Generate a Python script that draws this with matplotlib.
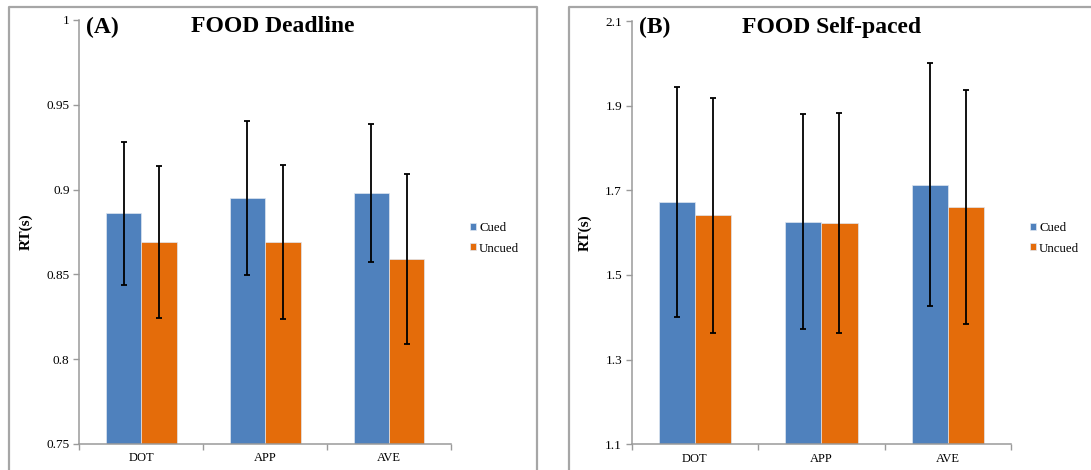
import numpy as np
import matplotlib
matplotlib.use("Agg")
import matplotlib.pyplot as plt
from matplotlib.lines import Line2D

plt.rcParams['font.family'] = ['Liberation Serif', 'DejaVu Serif']

categories = ["DOT", "APP", "AVE"]
series = ["Cued", "Uncued"]
colors = ["#4F81BD", "#E46C0A"]

# panel A: FOOD Deadline
deadline_cued = [0.886, 0.895, 0.898]
deadline_uncued = [0.869, 0.869, 0.859]
deadline_cued_err = [0.042, 0.0455, 0.0405]
deadline_uncued_err = [0.045, 0.0455, 0.050]
deadline_ticks = [0.75, 0.8, 0.85, 0.9, 0.95, 1.0]
deadline_ticklabels = ["0.75", "0.8", "0.85", "0.9", "0.95", "1"]

# panel B: FOOD Self-paced
self_cued = [1.672, 1.626, 1.713]
self_uncued = [1.641, 1.623, 1.660]
self_cued_err = [0.271, 0.254, 0.287]
self_uncued_err = [0.277, 0.260, 0.276]
self_ticks = [1.1, 1.3, 1.5, 1.7, 1.9, 2.1]
self_ticklabels = ["1.1", "1.3", "1.5", "1.7", "1.9", "2.1"]

W, H = 1091, 470
fig = plt.figure(figsize=(W / 100, H / 100), dpi=100)


def px(x, y):
    return x / W, 1 - y / H


def draw_panel(rect, cued, uncued, cued_err, uncued_err, ticks, ticklabels,
               letter, title, letter_x, title_x, leg_x, label_x):
    ax = fig.add_axes(rect)
    x = np.arange(len(categories))
    bw = 0.286
    vals = [cued, uncued]
    errs = [cued_err, uncued_err]
    for i in range(2):
        pos = x + (i - 0.5) * bw
        ax.bar(pos, vals[i], bw, color=colors[i], edgecolor="#dfe6f0", linewidth=0.5,
               label=series[i], zorder=2)
        ax.errorbar(pos, vals[i], yerr=errs[i], fmt="none", ecolor="black",
                    elinewidth=1.3, capsize=2.3, capthick=1.3, zorder=3)
    ax.set_xlim(-0.5, len(categories) - 0.5)
    ax.set_ylim(ticks[0], ticks[-1])
    ax.set_yticks(ticks)
    ax.set_yticklabels(ticklabels, fontsize=9.5)
    ax.set_xticks(x)
    ax.set_xticklabels(categories, fontsize=9)
    ax.set_xticks(np.arange(len(categories) + 1) - 0.5, minor=True)
    ax.tick_params(axis="x", which="major", length=0, pad=6)
    ax.tick_params(axis="x", which="minor", length=4, color="#9a9a9a", width=1)
    ax.tick_params(axis="y", length=4, color="#9a9a9a", width=1, pad=3)
    for s in ["top", "right"]:
        ax.spines[s].set_visible(False)
    for s in ["left", "bottom"]:
        ax.spines[s].set_color("#9a9a9a")
        ax.spines[s].set_linewidth(1.1)
    ax.set_ylabel("RT(s)", fontsize=11, fontweight="bold")
    ax.yaxis.set_label_coords(label_x, 0.5)
    fig.text(*px(letter_x, 27), letter, fontsize=17, fontweight="bold",
             ha="left", va="center")
    fig.text(*px(title_x, 27), title, fontsize=17, fontweight="bold",
             ha="center", va="center")
    fig.legend(handles=ax.patches[:1] + ax.patches[3:4], labels=series,
               loc="center left", bbox_to_anchor=px(leg_x, 238.5),
               frameon=False, fontsize=9.3, handlelength=0.45, handleheight=0.45,
               handletextpad=0.25, labelspacing=0.62, borderpad=0, borderaxespad=0)
    return ax


draw_panel([79.3 / W, 26 / H, 371.7 / W, 424 / H],
           deadline_cued, deadline_uncued, deadline_cued_err, deadline_uncued_err,
           deadline_ticks, deadline_ticklabels, "(A)", "FOOD Deadline",
           86, 273, 470, -0.125)
draw_panel([631.7 / W, 25.7 / H, 379.3 / W, 423.3 / H],
           self_cued, self_uncued, self_cued_err, self_uncued_err,
           self_ticks, self_ticklabels, "(B)", "FOOD Self-paced",
           639, 832, 1030, -0.105)

# gray frames around each panel
frame_c = "#a6a6a6"
for x0, x1 in [(9, 536.5), (569, 1095)]:
    xs = [x0 / W, x0 / W, x1 / W, x1 / W]
    ys = [-0.05, 1 - 7 / H, 1 - 7 / H, -0.05]
    fig.add_artist(Line2D(xs, ys, color=frame_c, linewidth=1.6))

fig.savefig("out.png", dpi=100)
